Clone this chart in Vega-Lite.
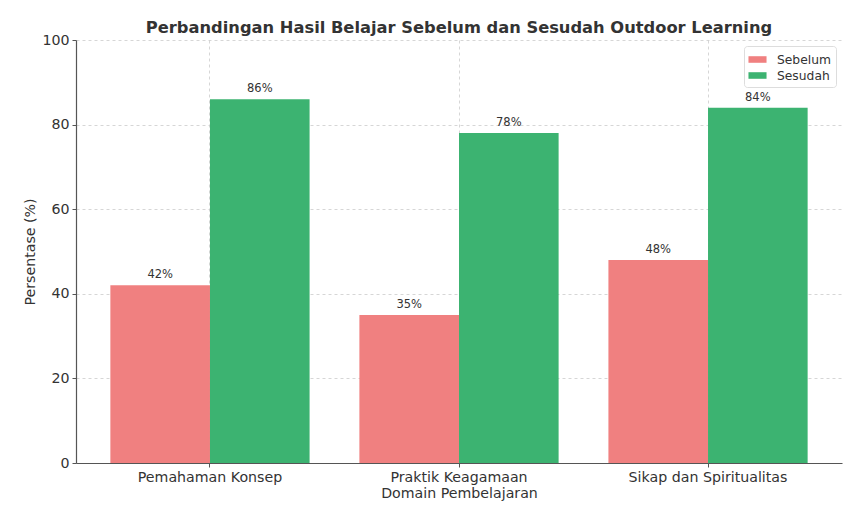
{
  "$schema": "https://vega.github.io/schema/vega-lite/v6.json",
  "autosize": {"type": "none"},
  "width": 766,
  "height": 423,
  "padding": {"left": 76, "top": 40, "right": 2, "bottom": 47},
  "background": "white",
  "title": {
    "text": "Perbandingan Hasil Belajar Sebelum dan Sesudah Outdoor Learning",
    "font": "DejaVu Sans",
    "fontSize": 16.3,
    "fontWeight": "bold",
    "color": "#333333",
    "offset": -3,
    "anchor": "middle"
  },
  "data": {
    "values": [
      {"domain": "Pemahaman Konsep", "fase": "Sebelum", "nilai": 42},
      {"domain": "Pemahaman Konsep", "fase": "Sesudah", "nilai": 86},
      {"domain": "Praktik Keagamaan", "fase": "Sebelum", "nilai": 35},
      {"domain": "Praktik Keagamaan", "fase": "Sesudah", "nilai": 78},
      {"domain": "Sikap dan Spiritualitas", "fase": "Sebelum", "nilai": 48},
      {"domain": "Sikap dan Spiritualitas", "fase": "Sesudah", "nilai": 84}
    ]
  },
  "transform": [{"calculate": "datum.nilai + '%'", "as": "label"}],
  "encoding": {
    "x": {
      "field": "domain",
      "type": "nominal",
      "sort": null,
      "title": "Domain Pembelajaran",
      "scale": {"paddingInner": 0.2, "paddingOuter": 0.138},
      "axis": {
        "labelAngle": 0,
        "labelFont": "DejaVu Sans",
        "labelFontSize": 14.2,
        "labelColor": "#333333",
        "labelPadding": 3,
        "titleFont": "DejaVu Sans",
        "titleFontSize": 14.2,
        "titleFontWeight": "normal",
        "titleColor": "#333333",
        "titlePadding": 2,
        "domainColor": "#555555",
        "domainWidth": 1.2,
        "tickColor": "#555555",
        "tickSize": 4,
        "grid": true,
        "gridDash": [3, 3],
        "gridColor": "#cccccc",
        "gridWidth": 0.8,
        "bandPosition": 0.5
      }
    },
    "xOffset": {"field": "fase", "type": "nominal", "scale": {"paddingInner": 0, "paddingOuter": 0}},
    "y": {
      "field": "nilai",
      "type": "quantitative",
      "title": "Persentase (%)",
      "scale": {"domain": [0, 100], "nice": false},
      "axis": {
        "values": [0, 20, 40, 60, 80, 100],
        "labelFont": "DejaVu Sans",
        "labelFontSize": 14.2,
        "labelColor": "#333333",
        "labelPadding": 3,
        "titleFont": "DejaVu Sans",
        "titleFontSize": 14.2,
        "titleFontWeight": "normal",
        "titleColor": "#333333",
        "titlePadding": 4,
        "domainColor": "#555555",
        "domainWidth": 1.2,
        "tickColor": "#555555",
        "tickSize": 4,
        "grid": true,
        "gridDash": [3, 3],
        "gridColor": "#cccccc",
        "gridWidth": 0.8
      }
    }
  },
  "layer": [
    {
      "mark": {"type": "bar"},
      "encoding": {
        "color": {
          "field": "fase",
          "type": "nominal",
          "title": null,
          "scale": {"domain": ["Sebelum", "Sesudah"], "range": ["#F08080", "#3CB371"]},
          "legend": {
            "orient": "top-right",
            "offset": 6,
            "symbolType": "M-1.1,-0.4L1.1,-0.4L1.1,0.4L-1.1,0.4Z",
            "symbolSize": 270,
            "symbolStrokeWidth": 0,
            "labelFont": "DejaVu Sans",
            "labelFontSize": 12.3,
            "labelColor": "#333333",
            "labelOffset": 11,
            "fillColor": "white",
            "strokeColor": "#dddddd",
            "cornerRadius": 3,
            "padding": 5,
            "rowPadding": 1
          }
        }
      }
    },
    {
      "mark": {"type": "text", "dy": -10, "font": "DejaVu Sans", "fontSize": 11.5, "color": "#333333"},
      "encoding": {
        "text": {"field": "label", "type": "nominal"},
        "detail": {"field": "fase"}
      }
    }
  ],
  "config": {"view": {"stroke": null}}
}
